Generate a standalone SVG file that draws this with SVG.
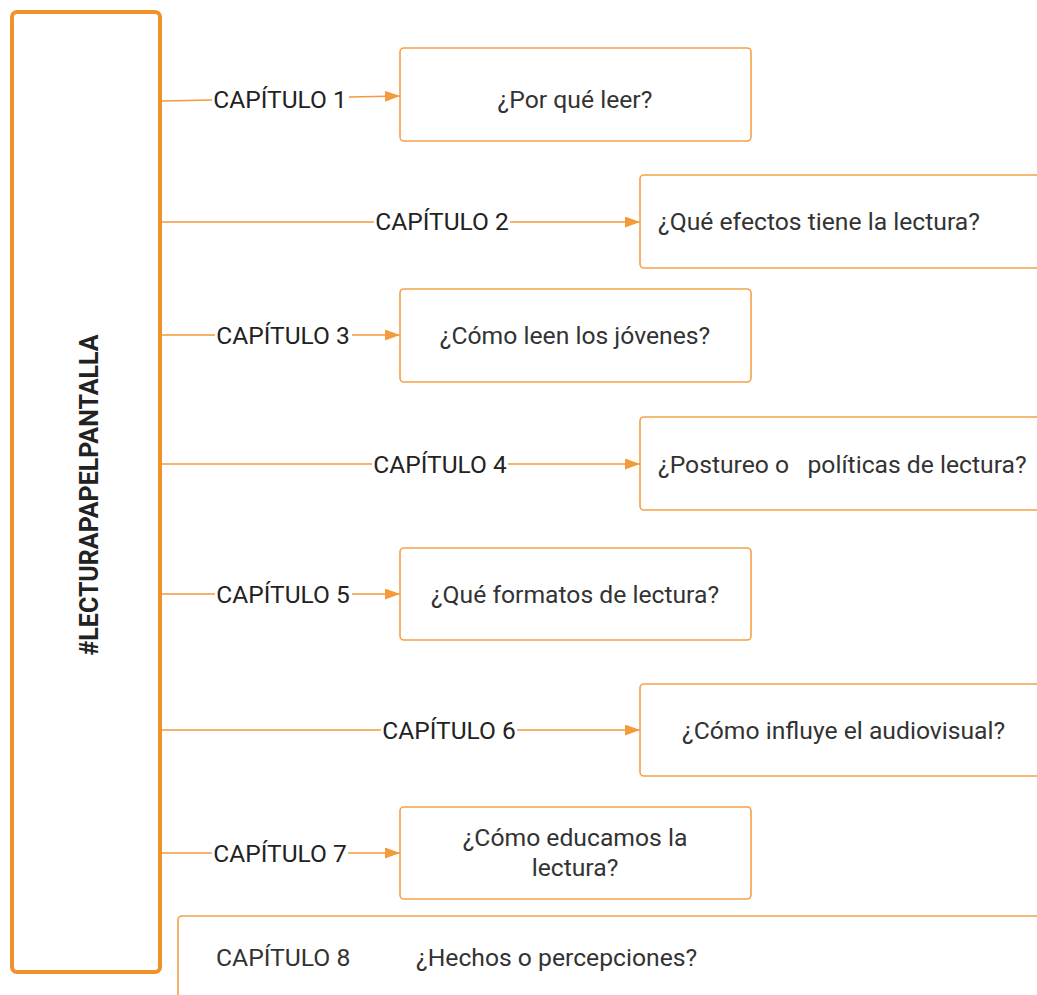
<svg xmlns="http://www.w3.org/2000/svg" width="1037" height="995" viewBox="0 0 1037 995">
<defs>
<marker id="arr" markerWidth="15" markerHeight="11" refX="15" refY="5.5" orient="auto" markerUnits="userSpaceOnUse">
<path d="M0,0 L15,5.5 L0,11 Z" fill="#f39a3c"/>
</marker>
<style>
.box{fill:#fff;stroke:#f5a04a;stroke-width:1.6}
.main{fill:#fff;stroke:#f0912c;stroke-width:4}
.ln{fill:none;stroke:#f39a3c;stroke-width:1.6}
.lbl{font-family:Roboto,"Liberation Sans",sans-serif;font-size:24.5px;fill:#222;text-anchor:middle}
.txt{font-family:Roboto,"Liberation Sans",sans-serif;font-size:24.7px;fill:#333}
.c{text-anchor:middle}
</style>
</defs>
<rect width="1037" height="995" fill="#fff"/>
<g id="main">
<rect class="main" x="12" y="12" width="148" height="960" rx="5"/>
<text transform="translate(98,495) rotate(-90)" font-family="Roboto,'Liberation Sans',sans-serif" font-size="25" font-weight="bold" fill="#222" text-anchor="middle">#LECTURAPAPELPANTALLA</text>
</g>
<g id="connectors">
<path class="ln" d="M162,101 L212,100"/>
<path class="ln" d="M349,97 L400,96" marker-end="url(#arr)"/>
<path class="ln" d="M162,222 L374,222"/>
<path class="ln" d="M510,222 L640,222" marker-end="url(#arr)"/>
<path class="ln" d="M162,335 L215,335"/>
<path class="ln" d="M352,335 L400,335" marker-end="url(#arr)"/>
<path class="ln" d="M162,464 L372,464"/>
<path class="ln" d="M508,464 L640,464" marker-end="url(#arr)"/>
<path class="ln" d="M162,594 L215,594"/>
<path class="ln" d="M352,594 L400,594" marker-end="url(#arr)"/>
<path class="ln" d="M162,730 L381,730"/>
<path class="ln" d="M517,730 L640,730" marker-end="url(#arr)"/>
<path class="ln" d="M162,853 L212,853"/>
<path class="ln" d="M348,853 L400,853" marker-end="url(#arr)"/>
<text class="lbl" x="280" y="108">CAPÍTULO 1</text>
<text class="lbl" x="442" y="230">CAPÍTULO 2</text>
<text class="lbl" x="283" y="344">CAPÍTULO 3</text>
<text class="lbl" x="440" y="473">CAPÍTULO 4</text>
<text class="lbl" x="283" y="603">CAPÍTULO 5</text>
<text class="lbl" x="449" y="739">CAPÍTULO 6</text>
<text class="lbl" x="280" y="862">CAPÍTULO 7</text>
</g>
<g id="n1">
<rect class="box" x="400" y="48" width="351" height="93" rx="4"/>
<text class="txt c" x="575" y="108">¿Por qué leer?</text>
</g>
<g id="n2">
<rect class="box" x="640" y="175" width="410" height="93" rx="4"/>
<text class="txt" x="658" y="230">¿Qué efectos tiene la lectura?</text>
</g>
<g id="n3">
<rect class="box" x="400" y="289" width="351" height="93" rx="4"/>
<text class="txt c" x="575" y="344">¿Cómo leen los jóvenes?</text>
</g>
<g id="n4">
<rect class="box" x="640" y="417" width="410" height="93" rx="4"/>
<text class="txt" x="658" y="473" xml:space="preserve">¿Postureo o   políticas de lectura?</text>
</g>
<g id="n5">
<rect class="box" x="400" y="548" width="351" height="92" rx="4"/>
<text class="txt c" x="575" y="603">¿Qué formatos de lectura?</text>
</g>
<g id="n6">
<rect class="box" x="640" y="684" width="410" height="92" rx="4"/>
<text class="txt" x="682" y="739">¿Cómo influye el audiovisual?</text>
</g>
<g id="n7">
<rect class="box" x="400" y="807" width="351" height="92" rx="4"/>
<text class="txt c" x="575" y="846">¿Cómo educamos la</text>
<text class="txt c" x="575" y="876">lectura?</text>
</g>
<g id="n8">
<rect class="box" x="178" y="916" width="880" height="100" rx="4"/>
<text class="txt" x="216" y="966">CAPÍTULO 8</text>
<text class="txt" x="416" y="966">¿Hechos o percepciones?</text>
</g>
</svg>
